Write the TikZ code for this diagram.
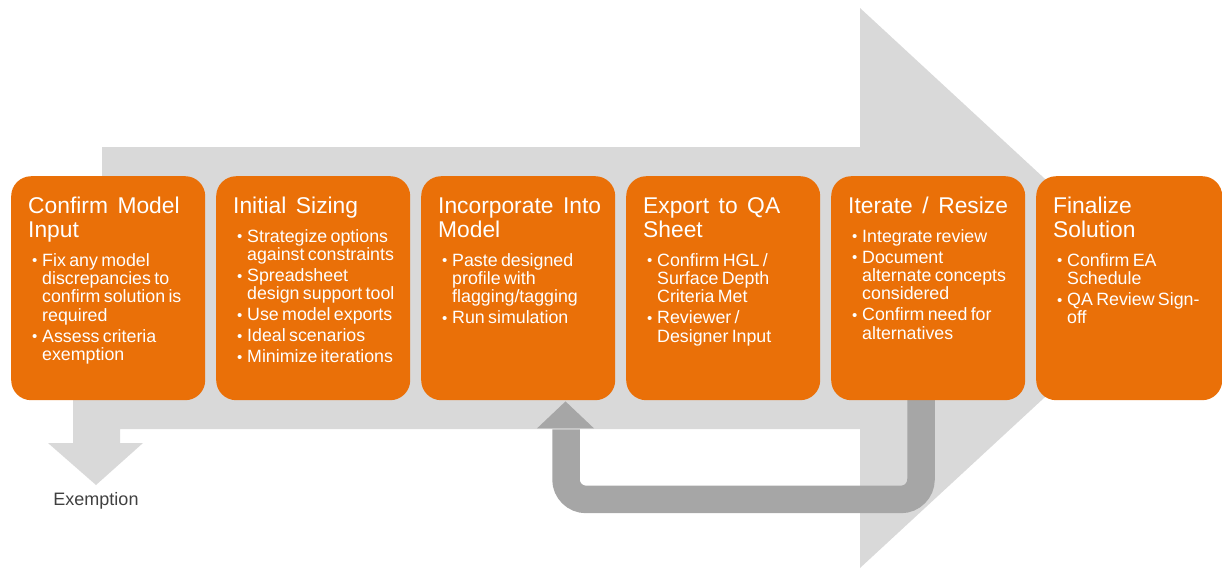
\documentclass[tikz,border=0pt]{standalone}
\usepackage{fontspec}
\setmainfont{Liberation Sans}
\usetikzlibrary{calc}
\definecolor{orangebox}{RGB}{234,112,8}
\definecolor{bodygrey}{RGB}{217,217,217}
\definecolor{loopgrey}{RGB}{166,166,166}
\definecolor{labelgrey}{RGB}{64,64,64}
\newcommand{\ttl}[1]{{\fontsize{22.8}{24}\selectfont\spaceskip=0.42em\rule{0pt}{20pt}#1\par}\vspace{8pt}}
\newcommand{\buls}[1]{{\fontsize{17.8}{18.3}\selectfont\setlength{\parskip}{2.7pt}#1}}
\newcommand{\bul}[1]{\par\noindent\hangindent=14pt\hangafter=1\hspace*{4pt}\makebox[10pt][l]{\raisebox{0.5pt}{\fontsize{15}{15}\selectfont\textbullet}}#1\par}
\tikzset{
  stepbox/.style={fill=orangebox, rounded corners=20pt, minimum width=194pt, minimum height=224pt, inner sep=0pt, anchor=north west},
  boxtext/.style={anchor=north west, inner sep=0pt, text width=190pt, align=left, text=white},
  loopline/.style={draw=loopgrey, line width=27.5pt, rounded corners=20pt},
}
\begin{document}
\begin{tikzpicture}[x=1pt, y=-1pt]
\useasboundingbox (0,0) rectangle (1222,568);
% big grey arrow with exemption branch
\fill[bodygrey] (102,147) -- (860,147) -- (860,8) -- (1163,288) -- (860,568) -- (860,429)
  -- (120,429) -- (120,443) -- (143,443) -- (96,485) -- (48,443) -- (73,443) -- (73,380) -- (102,380) -- cycle;
% boxes (positions only, for naming)
\path (11,176) node[stepbox, draw=none, fill=none] (b1) {}
      (216,176) node[stepbox, draw=none, fill=none] (b2) {}
      (421,176) node[stepbox, draw=none, fill=none] (b3) {}
      (626,176) node[stepbox, draw=none, fill=none] (b4) {}
      (831,176) node[stepbox, draw=none, fill=none] (b5) {}
      (1036,176) node[stepbox, draw=none, fill=none, minimum width=186pt] (b6) {};
% feedback loop
\coordinate (fbstart) at ($(b5.south west)+(90,-5)$);
\coordinate (fbend) at ($(b3.south west)+(145,29)$);
\draw[loopline] (fbstart) -- ++(0,104) -| (fbend);
\fill[loopgrey] ($(b3.south west)+(116,28)$) -- ($(b3.south west)+(173,28)$) -- ($(b3.south west)+(144.5,1)$) -- cycle;
% orange boxes
\node[stepbox] at (b1.north west) {};
\node[stepbox] at (b2.north west) {};
\node[stepbox] at (b3.north west) {};
\node[stepbox] at (b4.north west) {};
\node[stepbox] at (b5.north west) {};
\node[stepbox, minimum width=186pt] at (b6.north west) {};
% texts
\node[boxtext] (t1) at ($(b1.north west)+(17,17)$) {\ttl{Confirm Model\newline Input}\buls{\bul{Fix any model\newline discrepancies to\newline confirm solution is\newline required}\bul{Assess criteria\newline exemption}}};
\node[boxtext] (t2) at ($(b2.north west)+(17,17)$) {\ttl{Initial Sizing}\buls{\bul{Strategize options\newline against constraints}\bul{Spreadsheet\newline design support tool}\bul{Use model exports}\bul{Ideal scenarios}\bul{Minimize iterations}}};
\node[boxtext] (t3) at ($(b3.north west)+(17,17)$) {\ttl{Incorporate Into\newline Model}\buls{\bul{Paste designed\newline profile with\newline flagging/tagging}\bul{Run simulation}}};
\node[boxtext] (t4) at ($(b4.north west)+(17,17)$) {\ttl{Export to QA\newline Sheet}\buls{\bul{Confirm HGL /\newline Surface Depth\newline Criteria Met}\bul{Reviewer /\newline Designer Input}}};
\node[boxtext] (t5) at ($(b5.north west)+(17,17)$) {\ttl{Iterate / Resize}\buls{\bul{Integrate review}\bul{Document\newline alternate concepts\newline considered}\bul{Confirm need for\newline alternatives}}};
\node[boxtext] (t6) at ($(b6.north west)+(17,17)$) {\ttl{Finalize\newline Solution}\buls{\bul{Confirm EA\newline Schedule}\bul{QA Review Sign-\newline off}}};
% exemption label
\node[font=\fontsize{18}{20}\selectfont, text=labelgrey, anchor=base, inner sep=0pt] (ex) at (96,505) {Exemption};
\end{tikzpicture}
\end{document}
